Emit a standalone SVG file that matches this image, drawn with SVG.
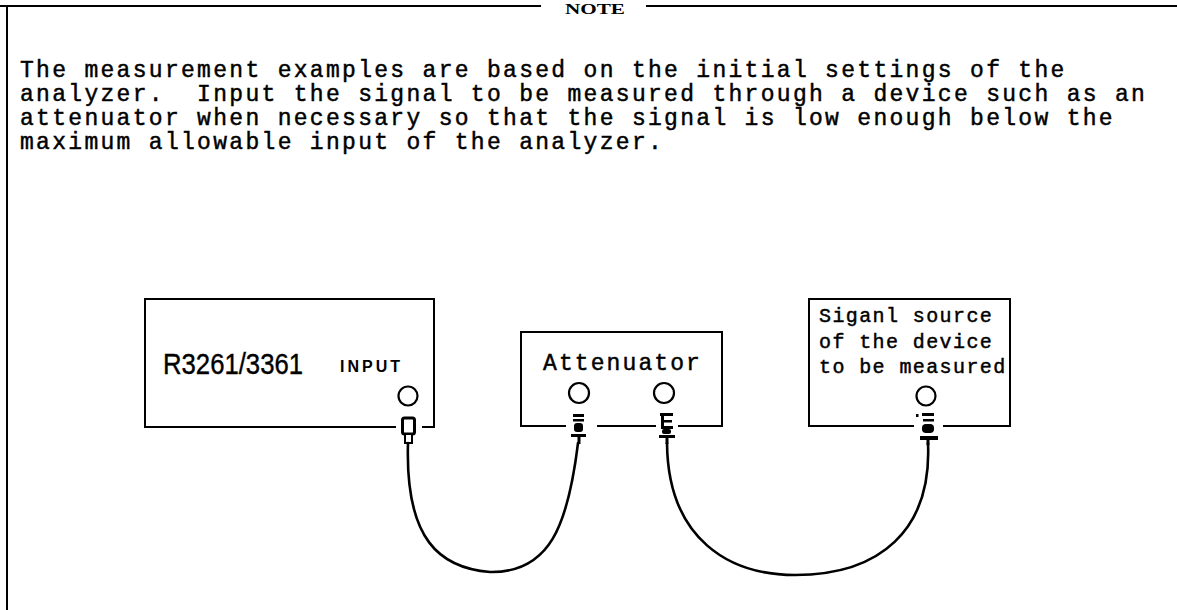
<svg xmlns="http://www.w3.org/2000/svg" width="1177" height="610" viewBox="0 0 1177 610">
<style>
.ln{stroke:#000;stroke-width:2;fill:none}
.mono{font-family:"Liberation Mono","Courier New",monospace;fill:#000;stroke:#000;stroke-width:0.45}
.body{font-size:23px;letter-spacing:2.3px}
.circ{stroke:#000;stroke-width:2.2;fill:#fff}
.cable{stroke:#000;stroke-width:2.6;fill:none;stroke-linecap:round}
</style>
<rect width="1177" height="610" fill="#fff"/>
<g id="frame">
<line class="ln" x1="0" y1="6" x2="541" y2="6" stroke-width="2.5"/>
<line class="ln" x1="646" y1="6" x2="1177" y2="6" stroke-width="2.5"/>
<line class="ln" x1="7" y1="6" x2="7" y2="610" stroke-width="2.5"/>
<text x="565" y="14" font-family="Liberation Serif,serif" font-size="15" font-weight="bold" textLength="60" lengthAdjust="spacingAndGlyphs">NOTE</text>
</g>
<g id="note-text" class="mono body">
<text x="20" y="77" xml:space="preserve">The measurement examples are based on the initial settings of the</text>
<text x="20" y="101" xml:space="preserve">analyzer.  Input the signal to be measured through a device such as an</text>
<text x="20" y="125" xml:space="preserve">attenuator when necessary so that the signal is low enough below the</text>
<text x="20" y="149" xml:space="preserve">maximum allowable input of the analyzer.</text>
</g>
<g id="analyzer">
<path class="ln" d="M396,427 H145 V299 H434 V427 H422"/>
<text x="163" y="374" font-family="Liberation Sans,Arial,sans-serif" font-size="29" textLength="140" lengthAdjust="spacingAndGlyphs" stroke="#000" stroke-width="0.4">R3261/3361</text>
<text x="340" y="372" font-family="Liberation Sans,Arial,sans-serif" font-size="16" font-weight="bold" textLength="60" lengthAdjust="spacing">INPUT</text>
<circle class="circ" cx="408" cy="396" r="9.5"/>
<rect x="402.5" y="418" width="12" height="16" rx="2" fill="#fff" stroke="#000" stroke-width="3"/>
<rect x="405" y="434" width="7" height="9" fill="#fff" stroke="#000" stroke-width="2"/>
</g>
<g id="attenuator">
<path class="ln" d="M566,426 H521 V332 H722 V426 H678"/>
<line class="ln" x1="597" y1="426" x2="656" y2="426"/>
<text x="543" y="370" class="mono" font-size="23" letter-spacing="2.1">Attenuator</text>
<circle class="circ" cx="579" cy="393" r="10"/>
<circle class="circ" cx="664" cy="393" r="10"/>
<g fill="#000">
<rect x="573" y="414" width="11" height="3"/>
<rect x="573" y="419" width="11" height="2.5"/>
<rect x="574" y="423" width="9" height="9" rx="3"/>
<rect x="571" y="434" width="15" height="3"/>
<rect x="577.5" y="437" width="3" height="7"/>
<rect x="660" y="413" width="13" height="3"/>
<rect x="661" y="416" width="3" height="12"/>
<rect x="661" y="420" width="11" height="2.5"/>
<rect x="661" y="426" width="12" height="3"/>
<rect x="662" y="429" width="9" height="5" rx="2"/>
<rect x="659" y="435" width="16" height="3"/>
<rect x="665.5" y="438" width="3" height="6"/>
</g>
</g>
<g id="signal-source">
<path class="ln" d="M914,426 H809 V299 H1010 V426 H943"/>
<g class="mono" font-size="20" letter-spacing="1.4">
<text x="819" y="322">Siganl source</text>
<text x="819" y="348">of the device</text>
<text x="819" y="373">to be measured</text>
</g>
<circle class="circ" cx="926" cy="396" r="9.5"/>
<g fill="#000">
<rect x="916" y="414" width="2.5" height="3"/>
<rect x="922" y="413" width="12" height="3"/>
<rect x="923" y="419" width="11" height="2.5"/>
<rect x="922" y="424" width="12" height="9" rx="4"/>
<rect x="920" y="436" width="18" height="4"/>
<rect x="926.5" y="440" width="3" height="5"/>
</g>
</g>
<g id="connectors">
<path class="cable" d="M408,443 C405,540 440,568 490,572 C550,573 568,525 578,443"/>
<path class="cable" d="M667,443 C668,540 730,575 795,575 C880,575 932,530 928,443"/>
</g>
</svg>
